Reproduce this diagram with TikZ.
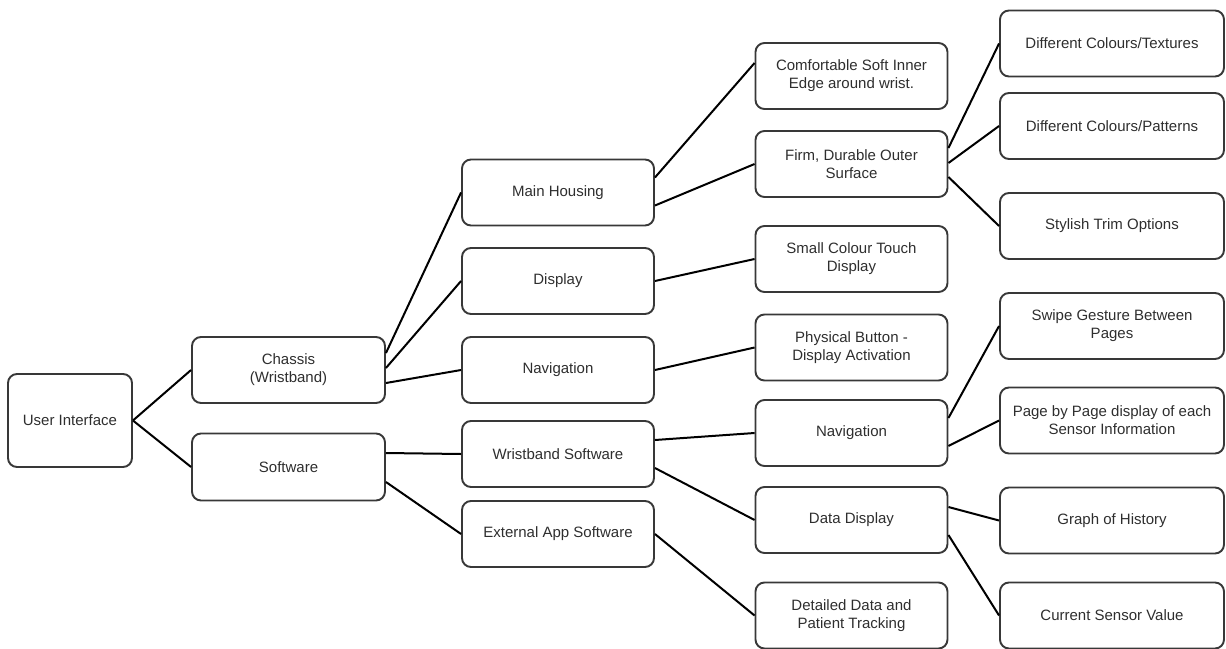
\documentclass[tikz,border=0pt]{standalone}
\usepackage{fontspec}
\setmainfont{Liberation Sans}
\usepackage{tikz}
\usetikzlibrary{positioning, calc}
\usepackage{xcolor}

\begin{document}
\begin{tikzpicture}[
        x=1pt, y=-1pt,
        every node/.style={font=\fontsize{15pt}{18pt}\selectfont, text=black!82},
        box/.style={rectangle, draw=black!78, line width=1.9pt, rounded corners=9pt,
            minimum width=192pt, minimum height=66pt, align=center, inner sep=2pt},
        wide/.style={box, minimum width=224pt},
        link/.style={line width=2pt, black},
    ]
    \useasboundingbox (0,0) rectangle (1226,648);
    \node[box, minimum width=124pt, minimum height=93pt] (ui) at (70,420.5) {User Interface};
    \node[box, minimum width=193pt] (chassis) at (288.5,370) {Chassis\\(Wristband)};
    \node[box, minimum width=193pt, minimum height=67pt] (software) at (288.5,467) {Software};
    \node[box] (housing) at (558,192.5) {Main Housing};
    \node[box] (display) at (558,281) {Display};
    \node[box] (navigation) at (558,370) {Navigation};
    \node[box] (bandsoft) at (558,454) {Wristband Software};
    \node[box] (extapp) at (558,534) {External App Software};
    \node[box] (inner) at (851.5,76) {Comfortable Soft Inner\\Edge around wrist.};
    \node[box] (outer) at (851.5,164) {Firm, Durable Outer\\Surface};
    \node[box] (touch) at (851.5,259) {Small Colour Touch\\Display};
    \node[box] (button) at (851.5,347.5) {Physical Button -\\Display Activation};
    \node[box] (bandnav) at (851.5,433) {Navigation};
    \node[box] (datadisp) at (851.5,520) {Data Display};
    \node[box] (tracking) at (851.5,615.5) {Detailed Data and\\Patient Tracking};
    \node[wide] (textures) at (1112,43.5) {Different Colours/Textures};
    \node[wide] (patterns) at (1112,126) {Different Colours/Patterns};
    \node[wide] (trim) at (1112,226) {Stylish Trim Options};
    \node[wide] (swipe) at (1112,326) {Swipe Gesture Between\\Pages};
    \node[wide] (pages) at (1112,420.5) {Page by Page display of each\\Sensor Information};
    \node[wide] (history) at (1112,520.5) {Graph of History};
    \node[wide] (current) at (1112,615.5) {Current Sensor Value};
    \draw[link] (ui.east) -- (chassis.west);
    \draw[link] (ui.east) -- (software.west);
    \draw[link] ([yshift=17pt]chassis.east) -- (housing.west);
    \draw[link] ([yshift=2pt]chassis.east) -- (display.west);
    \draw[link] ([yshift=-13pt]chassis.east) -- (navigation.west);
    \draw[link] ([yshift=14pt]software.east) -- (bandsoft.west);
    \draw[link] ([yshift=-15pt]software.east) -- (extapp.west);
    \draw[link] ([yshift=15pt]housing.east) -- ([yshift=13pt]inner.west);
    \draw[link] ([yshift=-13pt]housing.east) -- (outer.west);
    \draw[link] (display.east) -- (touch.west);
    \draw[link] (navigation.east) -- (button.west);
    \draw[link] ([yshift=14pt]bandsoft.east) -- (bandnav.west);
    \draw[link] ([yshift=-14pt]bandsoft.east) -- (datadisp.west);
    \draw[link] (extapp.east) -- (tracking.west);
    \draw[link] ([yshift=16pt]outer.east) -- (textures.west);
    \draw[link] ([yshift=1pt]outer.east) -- (patterns.west);
    \draw[link] ([yshift=-13pt]outer.east) -- (trim.west);
    \draw[link] ([yshift=15pt]bandnav.east) -- (swipe.west);
    \draw[link] ([yshift=-13pt]bandnav.east) -- (pages.west);
    \draw[link] ([yshift=13pt]datadisp.east) -- (history.west);
    \draw[link] ([yshift=-15pt]datadisp.east) -- (current.west);
\end{tikzpicture}
\end{document}
